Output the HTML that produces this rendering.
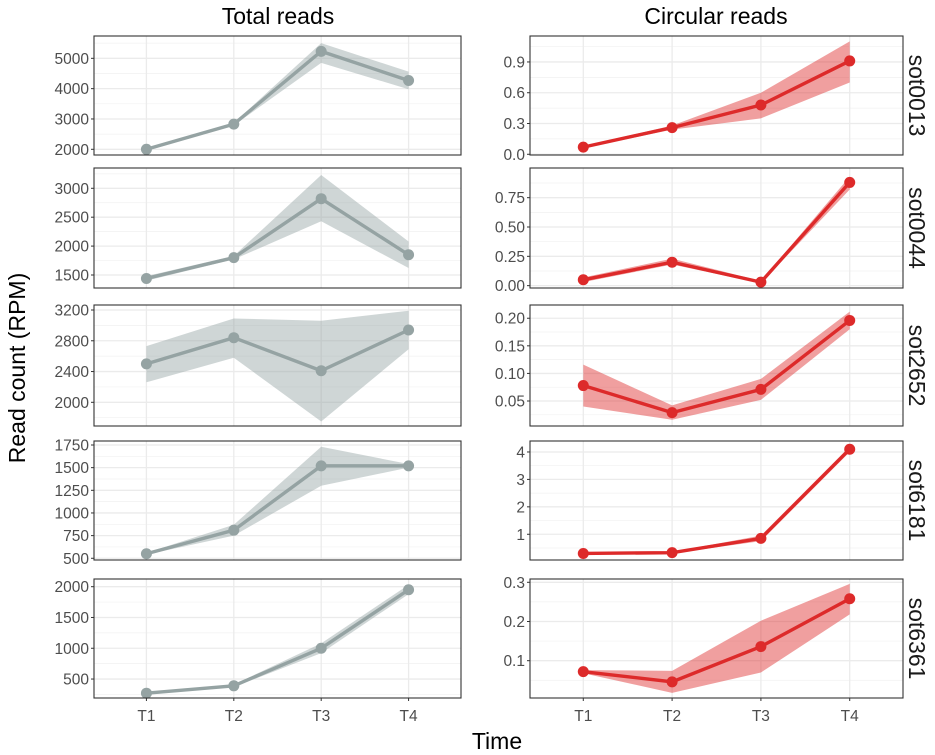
<!DOCTYPE html>
<html><head><meta charset="utf-8"><style>
body{margin:0;background:#fff}
svg{display:block;font-family:"Liberation Sans",sans-serif}
</style></head><body>
<svg id="c" width="935" height="755" viewBox="0 0 935 755">
<text x="278" y="24" font-size="23" text-anchor="middle" fill="#000">Total reads</text>
<text x="716" y="24" font-size="23" text-anchor="middle" fill="#000">Circular reads</text>
<text transform="translate(25,368) rotate(-90)" font-size="23" text-anchor="middle">Read count (RPM)</text>
<text x="497" y="749" font-size="23" text-anchor="middle">Time</text>
</svg>
<script>
const categories=["T1","T2","T3","T4"];
const samples=["sot0013","sot0044","sot2652","sot6181","sot6361"];
const totalMean=[[2000,2830,5230,4270],[1440,1800,2820,1850],[2500,2840,2410,2940],[550,810,1520,1520],[270,390,1000,1950]];
const totalLo=[[1990,2790,4850,3980],[1400,1770,2430,1620],[2260,2580,1750,2690],[540,750,1300,1500],[250,370,920,1880]];
const totalHi=[[2010,2870,5500,4560],[1480,1830,3230,2080],[2730,3090,3060,3190],[560,870,1730,1540],[290,410,1080,2030]];
const circMean=[[0.07,0.26,0.48,0.91],[0.05,0.20,0.03,0.88],[0.078,0.029,0.071,0.196],[0.30,0.33,0.85,4.1],[0.072,0.046,0.136,0.258]];
const circLo=[[0.06,0.24,0.35,0.70],[0.03,0.18,0.02,0.82],[0.040,0.016,0.052,0.180],[0.28,0.30,0.75,4.0],[0.068,0.018,0.070,0.218]];
const circHi=[[0.08,0.28,0.60,1.10],[0.07,0.23,0.04,0.93],[0.116,0.042,0.090,0.212],[0.32,0.36,0.95,4.2],[0.076,0.074,0.202,0.296]];
const totalTicks=[[2000,3000,4000,5000],[1500,2000,2500,3000],[2000,2400,2800,3200],[500,750,1000,1250,1500,1750],[500,1000,1500,2000]];
const totalTickLabels=[["2000","3000","4000","5000"],["1500","2000","2500","3000"],["2000","2400","2800","3200"],["500","750","1000","1250","1500","1750"],["500","1000","1500","2000"]];
const circTicks=[[0,0.3,0.6,0.9],[0,0.25,0.5,0.75],[0.05,0.10,0.15,0.20],[1,2,3,4],[0.1,0.2,0.3]];
const circTickLabels=[["0.0","0.3","0.6","0.9"],["0.00","0.25","0.50","0.75"],["0.05","0.10","0.15","0.20"],["1","2","3","4"],["0.1","0.2","0.3"]];
const totalDomain=[[1812,5736],[1275,3351],[1692,3265],[481,1794],[192,2125]];
const circDomain=[[-0.007,1.153],[-0.02,1.003],[0.0047,0.224],[0.062,4.40],[0.0048,0.3084]];

const NS="http://www.w3.org/2000/svg";
const svg=document.getElementById('c');
const tops=[36,168,305,441,579],bots=[155,288,426,560,698];
function mk(t,a,p){const e=document.createElementNS(NS,t);for(const k in a)e.setAttribute(k,a[k]);(p||svg).appendChild(e);return e;}
function panel(r,col,x0,x1,dom,ticks,labels,mean,lo,hi,lineC,ribC,ribO){
  const y0=tops[r],y1=bots[r];
  const g=mk('g',{});
  
  
  const bw=(x1-x0)/4.2;
  const xs=i=>x0+(0.6+i)*bw;
  const ys=v=>y1-(v-dom[0])/(dom[1]-dom[0])*(y1-y0);
  const step=ticks[1]-ticks[0];
  for(let v=ticks[0]-step/2;v<=dom[1];v+=step){if(v>dom[0]&&v<dom[1])mk('line',{x1:x0,x2:x1,y1:ys(v),y2:ys(v),stroke:'#f1f1f1','stroke-width':0.7},g);}
  ticks.forEach(v=>mk('line',{x1:x0,x2:x1,y1:ys(v),y2:ys(v),stroke:'#ebebeb','stroke-width':1.3},g));
  categories.forEach((c,i)=>mk('line',{x1:xs(i),x2:xs(i),y1:y0,y2:y1,stroke:'#ebebeb','stroke-width':1.3},g));
  let d='M'+categories.map((c,i)=>xs(i)+','+ys(hi[i])).join('L')+'L'+categories.map((c,i)=>xs(3-i)+','+ys(lo[3-i])).join('L')+'Z';
  const rb=mk('path',{d:d,fill:ribC,'fill-opacity':ribO},g);
  
  
  const ln=mk('polyline',{points:categories.map((c,i)=>xs(i)+','+ys(mean[i])).join(' '),fill:'none',stroke:lineC,'stroke-width':3.4},g);
  
  
  mean.forEach((v,i)=>{const p=mk('circle',{cx:xs(i),cy:ys(v),r:5.5,fill:lineC},g);
    
    });
  mk('rect',{x:x0,y:y0,width:x1-x0,height:y1-y0,fill:'none',stroke:'#333','stroke-width':1.1},g);
  ticks.forEach((v,i)=>{mk('line',{x1:x0-3,x2:x0,y1:ys(v),y2:ys(v),stroke:'#333','stroke-width':1},g);
    const t=mk('text',{x:x0-5,y:ys(v)+5.5,'font-size':15.5,'text-anchor':'end',fill:'#4d4d4d'},g);t.textContent=labels[i];
    
    });
  if(r==4)categories.forEach((c,i)=>{mk('line',{x1:xs(i),x2:xs(i),y1:y1,y2:y1+3,stroke:'#333'},g);
    const t=mk('text',{x:xs(i),y:y1+23,'font-size':15.5,'text-anchor':'middle',fill:'#4d4d4d'},g);t.textContent=c;
    
    });
}
for(let r=0;r<5;r++){
  panel(r,0,94,461,totalDomain[r],totalTicks[r],totalTickLabels[r],totalMean[r],totalLo[r],totalHi[r],'#95a3a3','#95a3a3',0.45);
  panel(r,1,530,903,circDomain[r],circTicks[r],circTickLabels[r],circMean[r],circLo[r],circHi[r],'#dd2a2a','#dd2a2a',0.45);
  const cy=(tops[r]+bots[r])/2;
  const t=mk('text',{transform:'translate(909,'+cy+') rotate(90)','font-size':23,'text-anchor':'middle',fill:'#1a1a1a'});
  t.textContent=samples[r];
  
  
}
</script>
</body></html>
